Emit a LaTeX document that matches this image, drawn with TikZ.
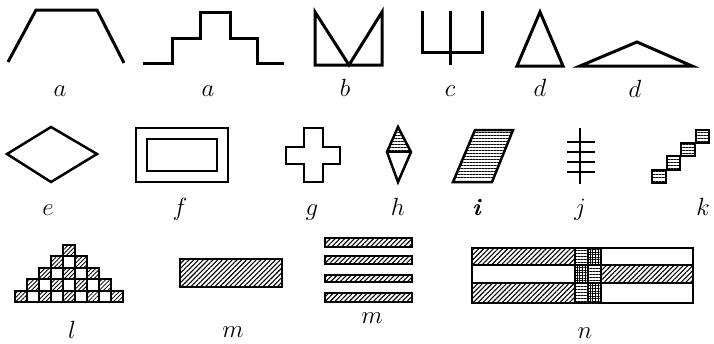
\documentclass[tikz,border=0pt]{standalone}
\usetikzlibrary{patterns.meta}

\tikzset{
  contour/.style={line width=3pt, line join=miter},
  rim/.style={line width=2.5pt, line join=miter},
  cell/.style={line width=2pt, line join=miter},
  lab/.style={font=\fontsize{24}{28}\selectfont, anchor=base, inner sep=0pt},
  labbig/.style={lab, font=\fontsize{26}{30}\selectfont},
  slant/.style={pattern={Lines[angle=45, distance=3.4pt, line width=1.1pt]}},
  slantlight/.style={pattern={Lines[angle=45, distance=3pt, line width=0.8pt]}},
  stripes/.style={pattern={Lines[angle=0, distance=3pt, line width=1pt]}},
  mesh/.style={pattern={Hatch[angle=0, distance=2.6pt, line width=0.8pt]}}
}

\begin{document}
\begin{tikzpicture}[x=1pt, y=-1pt, >=stealth]
\useasboundingbox (0,0) rectangle (714,343);

% --- Ряд 1 ---
% трапеция a
\draw[contour] (8,62) -- (36,10) -- (97,10) -- (124,63);
\node[lab] (la1) at (60,96) {$a$};

% ступени a
\draw[contour] (143,63) -- (172,63) -- (172,38) -- (200,38) -- (200,12)
  -- (230,12) -- (230,38) -- (257,38) -- (257,63) -- (284,63);
\node[lab] (la2) at (208,96) {$a$};

% b
\draw[contour] (315,12) -- (315,65) -- (382,65) -- (382,12) -- (349,65) -- cycle;
\node[lab] (lb) at (345,96) {$b$};

% c
\draw[contour] (422,11) -- (422,52) -- (482,52) -- (482,11);
\draw[contour] (450,11) -- (450,65);
\node[lab] (lc) at (450,96) {$c$};

% треугольники d
\draw[contour] (540,12) -- (517,66) -- (563,66) -- cycle;
\node[lab] (ld1) at (540,96) {$d$};
\draw[contour] (580,66) -- (637,42) -- (692,66) -- cycle;
\node[lab] (ld2) at (635,97) {$d$};

% --- Ряд 2 ---
% ромб e
\draw[rim] (7,154) -- (51,127) -- (97,154) -- (51,182) -- cycle;
\node[lab] (le) at (48,215) {$e$};

% рамка f
\draw[rim] (136,128) rectangle (228,182);
\draw[rim] (147,139) rectangle (217,171);
\node[lab] (lf) at (180,215) {$f$};

% крест g
\draw[rim] (304,128) -- (323,128) -- (323,147) -- (340,147) -- (340,164)
  -- (323,164) -- (323,182) -- (304,182) -- (304,164) -- (286,164)
  -- (286,147) -- (304,147) -- cycle;
\node[lab] (lg) at (312,215) {$g$};

% h: верхняя половина заштрихована
\fill[stripes] (398,127) -- (387,152) -- (411,152) -- cycle;
\draw[rim] (398,127) -- (387,152) -- (398,182) -- (411,152) -- cycle;
\draw[rim] (387,152) -- (411,152);
\node[lab] (lh) at (398,215) {$h$};

% параллелограмм i
\filldraw[rim, stripes] (453,182) -- (475,130) -- (513,130) -- (492,182) -- cycle;
\node[lab] (li) at (477,215) {\textbf{\itshape i}};

% j
\draw[rim] (580,128) -- (580,184);
\foreach \yy in {142,152,162,172} {
  \draw[rim] (567,\yy) -- (595,\yy);
}
\node[lab] (lj) at (580,215) {$j$};

% лесенка k
\foreach \i in {0,...,3} {
  \filldraw[cell, stripes] (652+14.6*\i, 183-13.3*\i) rectangle ++(13.5,-13.5);
}
\node[lab] (lk) at (703,215) {$k$};

% --- Ряд 3 ---
% пирамида l: 9, 7, 5, 3, 1 клеток
\def\cw{12}   % ширина клетки
\def\ch{11.4} % высота клетки
\foreach \r in {0,...,4} {
  \pgfmathtruncatemacro{\nc}{8-2*\r}
  \foreach \k in {0,...,\nc} {
    \pgfmathsetmacro{\xl}{15+(\r+\k)*\cw}
    \pgfmathsetmacro{\yb}{302-\r*\ch}
    \pgfmathtruncatemacro{\odd}{mod(\k,2)}
    \ifnum\odd=0 \fill[slantlight] (\xl,\yb) rectangle ++(\cw,-\ch); \fi
    \draw[cell] (\xl,\yb) rectangle ++(\cw,-\ch);
  }
}
\node[labbig] (ll) at (72,338) {$l$};

% брусок m
\filldraw[rim, slant] (180,259) rectangle (282,287);
\node[labbig] (lm1) at (233,337) {$m$};

% четыре полосы m
\foreach \yt/\yb in {238/247, 256/264, 275/282, 293/302} {
  \filldraw[cell, slant] (325,\yt) rectangle (412,\yb);
}
\node[labbig] (lm2) at (372,323) {$m$};

% n: три полосы и средняя колонка
\fill[slant] (472,248) rectangle (575,265);
\fill[slant] (472,283) rectangle (575,303);
\fill[slant] (601,265) rectangle (693,283);
\fill[stripes] (575,248) rectangle (588,265);
\fill[mesh] (588,248) rectangle (601,265);
\fill[mesh] (575,265) rectangle (588,283);
\fill[stripes] (588,265) rectangle (601,283);
\fill[stripes] (575,283) rectangle (588,303);
\fill[mesh] (588,283) rectangle (601,303);
\draw[rim] (472,248) rectangle (693,303);
\draw[rim] (472,265) -- (693,265) (472,283) -- (693,283);
\draw[rim] (575,248) -- (575,303) (601,248) -- (601,303);
\draw[cell] (588,248) -- (588,303);
\node[labbig] (ln) at (585,338) {$n$};

\end{tikzpicture}
\end{document}
